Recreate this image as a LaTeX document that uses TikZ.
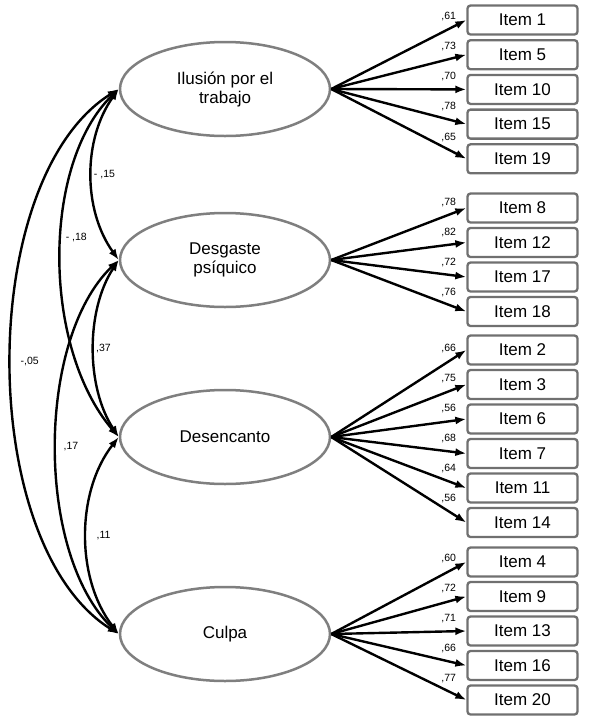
\documentclass[tikz,border=0pt]{standalone}
\usepackage{fontspec}
\setmainfont{Liberation Sans}
\usetikzlibrary{arrows.meta, shapes.geometric}
\definecolor{lgray}{HTML}{7F7F7F}
\definecolor{bgray}{HTML}{707070}
\tikzset{
  >=Latex,
  latent/.style={
    ellipse, draw=lgray, fill=white, line width=2.5pt,
    minimum width=210pt, minimum height=94pt, inner sep=0pt,
    align=center, font=\fontsize{17}{19}\selectfont
  },
  item/.style={
    draw=bgray, fill=white, line width=2.3pt, rounded corners=3pt,
    minimum width=110pt, minimum height=29pt, inner sep=0pt,
    font=\fontsize{17}{19}\selectfont
  },
  load/.style={-{Latex[length=11pt,width=8pt]}, line width=2.4pt},
  cov/.style={{Latex[length=11pt,width=8pt]}-{Latex[length=11pt,width=8pt]}, line width=2.4pt},
  wt/.style={font=\fontsize{10.5}{12}\selectfont, inner sep=1pt}
}

\begin{document}
\begin{tikzpicture}[x=1pt, y=-1pt]
  \useasboundingbox (0,0) rectangle (589,724);
  \node[latent] (IL) at (225,89) {Ilusión por el\\trabajo};
  \node[latent] (DG) at (225,260) {Desgaste\\psíquico};
  \node[latent] (DS) at (225,437) {Desencanto};
  \node[latent] (CU) at (225,634) {Culpa};

  \node[item] (i1) at (522.5,20) {Item 1};   \node[item] (i5) at (522.5,54.7) {Item 5};
  \node[item] (i10) at (522.5,89.4) {Item 10}; \node[item] (i15) at (522.5,124.1) {Item 15};
  \node[item] (i19) at (522.5,158.8) {Item 19};
  \node[item] (i8) at (522.5,208) {Item 8};   \node[item] (i12) at (522.5,242.5) {Item 12};
  \node[item] (i17) at (522.5,277) {Item 17}; \node[item] (i18) at (522.5,311.5) {Item 18};
  \node[item] (i2) at (522.5,350) {Item 2};   \node[item] (i3) at (522.5,384.5) {Item 3};
  \node[item] (i6) at (522.5,419) {Item 6};   \node[item] (i7) at (522.5,453.5) {Item 7};
  \node[item] (i11) at (522.5,488) {Item 11}; \node[item] (i14) at (522.5,522.5) {Item 14};
  \node[item] (i4) at (522.5,562) {Item 4};   \node[item] (i9) at (522.5,596.5) {Item 9};
  \node[item] (i13) at (522.5,631) {Item 13}; \node[item] (i16) at (522.5,665.5) {Item 16};
  \node[item] (i20) at (522.5,700) {Item 20};

  \draw[load] (IL.east) -- node[wt,pos=.87,above=6pt]{,61} (i1.west);
  \draw[load] (IL.east) -- node[wt,pos=.87,above=6pt]{,73} (i5.west);
  \draw[load] (IL.east) -- node[wt,pos=.87,above=6pt]{,70} (i10.west);
  \draw[load] (IL.east) -- node[wt,pos=.87,above=6pt]{,78} (i15.west);
  \draw[load] (IL.east) -- node[wt,pos=.87,above=6pt]{,65} (i19.west);
  \draw[load] (DG.east) -- node[wt,pos=.87,above=6pt]{,78} (i8.west);
  \draw[load] (DG.east) -- node[wt,pos=.87,above=6pt]{,82} (i12.west);
  \draw[load] (DG.east) -- node[wt,pos=.87,above=6pt]{,72} (i17.west);
  \draw[load] (DG.east) -- node[wt,pos=.87,above=6pt]{,76} (i18.west);
  \draw[load] (DS.east) -- node[wt,pos=.87,above=6pt]{,66} (i2.west);
  \draw[load] (DS.east) -- node[wt,pos=.87,above=6pt]{,75} (i3.west);
  \draw[load] (DS.east) -- node[wt,pos=.87,above=6pt]{,56} (i6.west);
  \draw[load] (DS.east) -- node[wt,pos=.87,above=6pt]{,68} (i7.west);
  \draw[load] (DS.east) -- node[wt,pos=.87,above=6pt]{,64} (i11.west);
  \draw[load] (DS.east) -- node[wt,pos=.87,above=6pt]{,56} (i14.west);
  \draw[load] (CU.east) -- node[wt,pos=.87,above=6pt]{,60} (i4.west);
  \draw[load] (CU.east) -- node[wt,pos=.87,above=6pt]{,72} (i9.west);
  \draw[load] (CU.east) -- node[wt,pos=.87,above=6pt]{,71} (i13.west);
  \draw[load] (CU.east) -- node[wt,pos=.87,above=6pt]{,66} (i16.west);
  \draw[load] (CU.east) -- node[wt,pos=.87,above=6pt]{,77} (i20.west);

  \draw[cov] (IL.west) .. controls +(-36,50) and +(-36,-50) .. (DG.west) node[wt,pos=.5,right]{- ,15};
  \draw[cov] (IL.west) .. controls +(-77,75) and +(-77,-90) .. (DS.west) node[wt,pos=.45,right=2pt]{- ,18};
  \draw[cov] (IL.west) .. controls +(-143,90) and +(-143,-90) .. (CU.west) node[wt,pos=.5,right=7pt]{-,05};
  \draw[cov] (DG.west) .. controls +(-33,50) and +(-33,-50) .. (DS.west) node[wt,pos=.5,right]{,37};
  \draw[cov] (DG.west) .. controls +(-83,80) and +(-83,-80) .. (CU.west) node[wt,pos=.5,right=5pt]{,17};
  \draw[cov] (DS.west) .. controls +(-43,55) and +(-43,-55) .. (CU.west) node[wt,pos=.5,right=8pt]{,11};
\end{tikzpicture}
\end{document}
